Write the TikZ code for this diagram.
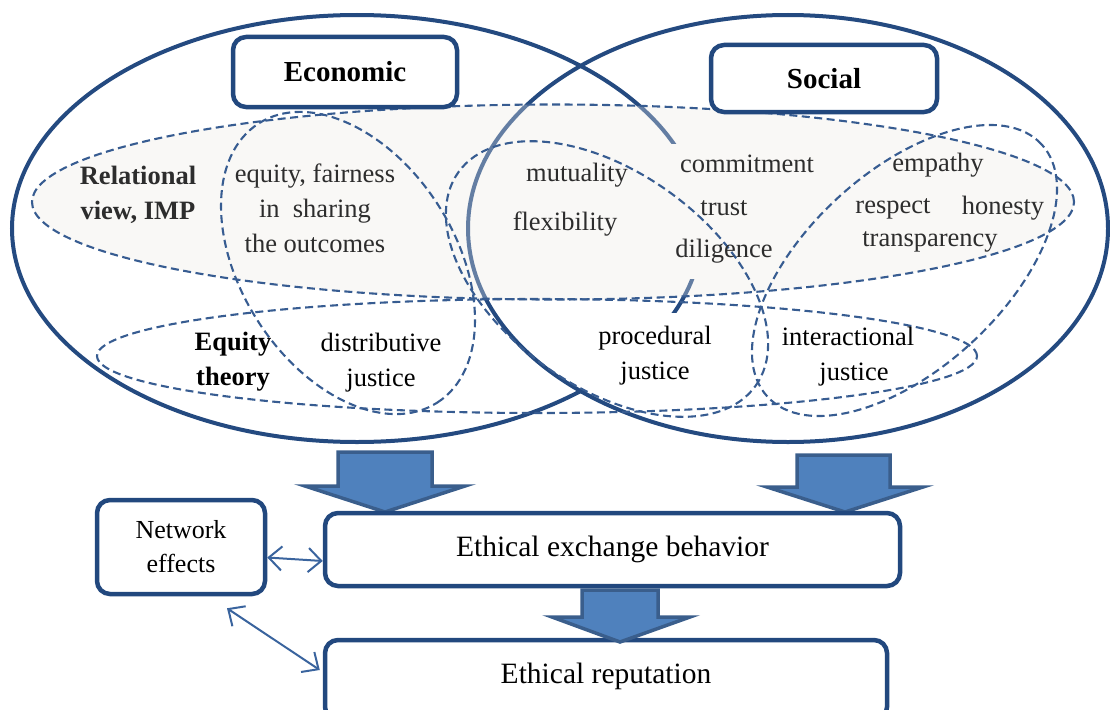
\documentclass[tikz,border=0pt]{standalone}
\usepackage{fontspec}
\setmainfont{Liberation Serif}
\usetikzlibrary{arrows.meta}
\definecolor{ellblue}{RGB}{36,74,128}
\definecolor{dashblue}{RGB}{55,92,145}
\definecolor{boxblue}{RGB}{34,72,126}
\definecolor{arrfill}{RGB}{79,129,189}
\definecolor{arrdraw}{RGB}{58,94,140}
\definecolor{relfill}{RGB}{249,248,246}
\definecolor{txtgray}{RGB}{45,45,45}
\definecolor{dblblue}{RGB}{58,100,158}
\begin{document}
\begin{tikzpicture}[x=1pt,y=-1pt,
  bigell/.style={draw=ellblue,line width=4pt},
  dashell/.style={draw=dashblue,line width=2.1pt,dash pattern=on 8pt off 4.5pt},
  hbox/.style={draw=boxblue,line width=4.5pt,rounded corners=13pt,fill=white,font=\fontsize{29}{34}\selectfont\bfseries,inner sep=0pt},
  lbox/.style={draw=boxblue,line width=4.5pt,rounded corners=13pt,fill=white,inner sep=0pt,align=center},
  body/.style={font=\fontsize{26.5}{35}\selectfont,align=center,inner sep=0pt,text=txtgray},
  bodyb/.style={font=\fontsize{26.5}{35}\selectfont\bfseries,align=center,inner sep=0pt,text=txtgray},
  blk/.style={fill=arrfill,draw=arrdraw,line width=3.5pt,line join=miter},
  dbl/.style={draw=dblblue,line width=2pt,{Straight Barb[length=13pt,width=24pt]}-{Straight Barb[length=13pt,width=24pt]}}
]
\useasboundingbox (0,0) rectangle (1110,709);
\clip (0,0) rectangle (1110,709);
% relational region fill
\fill[relfill] (553,202) ellipse [x radius=521pt,y radius=97.5pt];
% economic ellipse (outside the social one)
\begin{scope}[even odd rule]
  \clip (-20,-20) rectangle (1130,730) (788,228.5) ellipse [x radius=320pt,y radius=213.5pt];
  \draw[bigell] (357,228.5) ellipse [x radius=345pt,y radius=213.5pt];
\end{scope}
% visible fragments of the economic ellipse inside the social one
\begin{scope}
  \clip (788,228.5) ellipse [x radius=320pt,y radius=213.5pt];
  \clip (0,0) rectangle (1110,143);
  \draw[bigell] (357,228.5) ellipse [x radius=345pt,y radius=213.5pt];
\end{scope}
\begin{scope}
  \clip (788,228.5) ellipse [x radius=320pt,y radius=213.5pt];
  \clip (0,279) rectangle (1110,312);
  \draw[bigell] (357,228.5) ellipse [x radius=345pt,y radius=213.5pt];
\end{scope}
% social ellipse
\draw[bigell] (788,228.5) ellipse [x radius=320pt,y radius=213.5pt];
\fill[relfill,opacity=0.3] (553,202) ellipse [x radius=521pt,y radius=97.5pt];
% dashed groupings
\draw[dashell] (553,202) ellipse [x radius=521pt,y radius=97.5pt];
\draw[dashell] (537,356) ellipse [x radius=440pt,y radius=57pt];
\draw[dashell,rotate around={-57.4:(348,263)}] (348,263) ellipse [x radius=165.7pt,y radius=107.2pt];
\draw[dashell,rotate around={-35.8:(607,279)}] (607,279) ellipse [x radius=183pt,y radius=107pt];
\draw[dashell,rotate around={42.6:(904.5,270.5)}] (904.5,270.5) ellipse [x radius=186.3pt,y radius=98.6pt];
% headers
\node[hbox,minimum width=224pt,minimum height=70pt] (eco) at (345,72) {Economic};
\node[hbox,minimum width=226pt,minimum height=67pt] (soc) at (824,78.5) {Social};
% texts
\node[bodyb] (rel) at (138,195) {Relational\\view, IMP};
\node[body] (eqf) at (315,208) {equity, fairness\\in\ \ sharing\\the outcomes};
\node[bodyb,text=black] (eqt) at (233,362) {Equity\\theory};
\node[body,text=black] (dist) at (381,363) {distributive\\justice};
\node[body] (mut) at (577,175) {mutuality};
\node[body] (flex) at (565,224) {flexibility};
\node[body] (com) at (747,164) {commitment};
\node[body] (tru) at (724,208) {trust};
\node[body] (dil) at (724,251) {diligence};
\node[body] (emp) at (938,165) {empathy};
\node[body] (res) at (893,208.5) {respect};
\node[body] (hon) at (1003,208) {honesty};
\node[body] (tra) at (930,241.5) {transparency};
\node[body,text=black] (proc) at (655,356) {procedural\\justice};
\node[body,text=black] (inter) at (848,357) {interactional\\\hspace*{12pt}justice};
% block arrows
\draw[blk] (338,452) -- (432,452) -- (432,486) -- (465,486) -- (385,512) -- (305,486) -- (338,486) -- cycle;
\draw[blk] (797,455) -- (890,455) -- (890,487) -- (923,487) -- (845,512) -- (767,487) -- (797,487) -- cycle;
% lower boxes
\node[lbox,minimum width=168pt,minimum height=94pt,font=\fontsize{26}{34}\selectfont] (net) at (181,547) {Network\\effects};
\node[lbox,minimum width=575pt,minimum height=73pt,font=\fontsize{29.5}{35}\selectfont] (exch) at (612.5,549.5) {Ethical exchange behavior};
\node[lbox,minimum width=562pt,minimum height=80pt,font=\fontsize{29.5}{35}\selectfont,text height=18pt,text depth=12pt] (rep) at (606,680) {Ethical reputation};
\draw[blk] (582,590) -- (658,590) -- (658,617) -- (690,617) -- (620,642) -- (552,617) -- (582,617) -- cycle;
% double arrows
\draw[dbl] ([yshift=-10.5pt]net.east) -- ([yshift=-11.5pt]exch.west);
\draw[dbl] ([xshift=46pt,yshift=-12pt]net.south) -- ([xshift=-3pt,yshift=10pt]rep.west);
\end{tikzpicture}
\end{document}
